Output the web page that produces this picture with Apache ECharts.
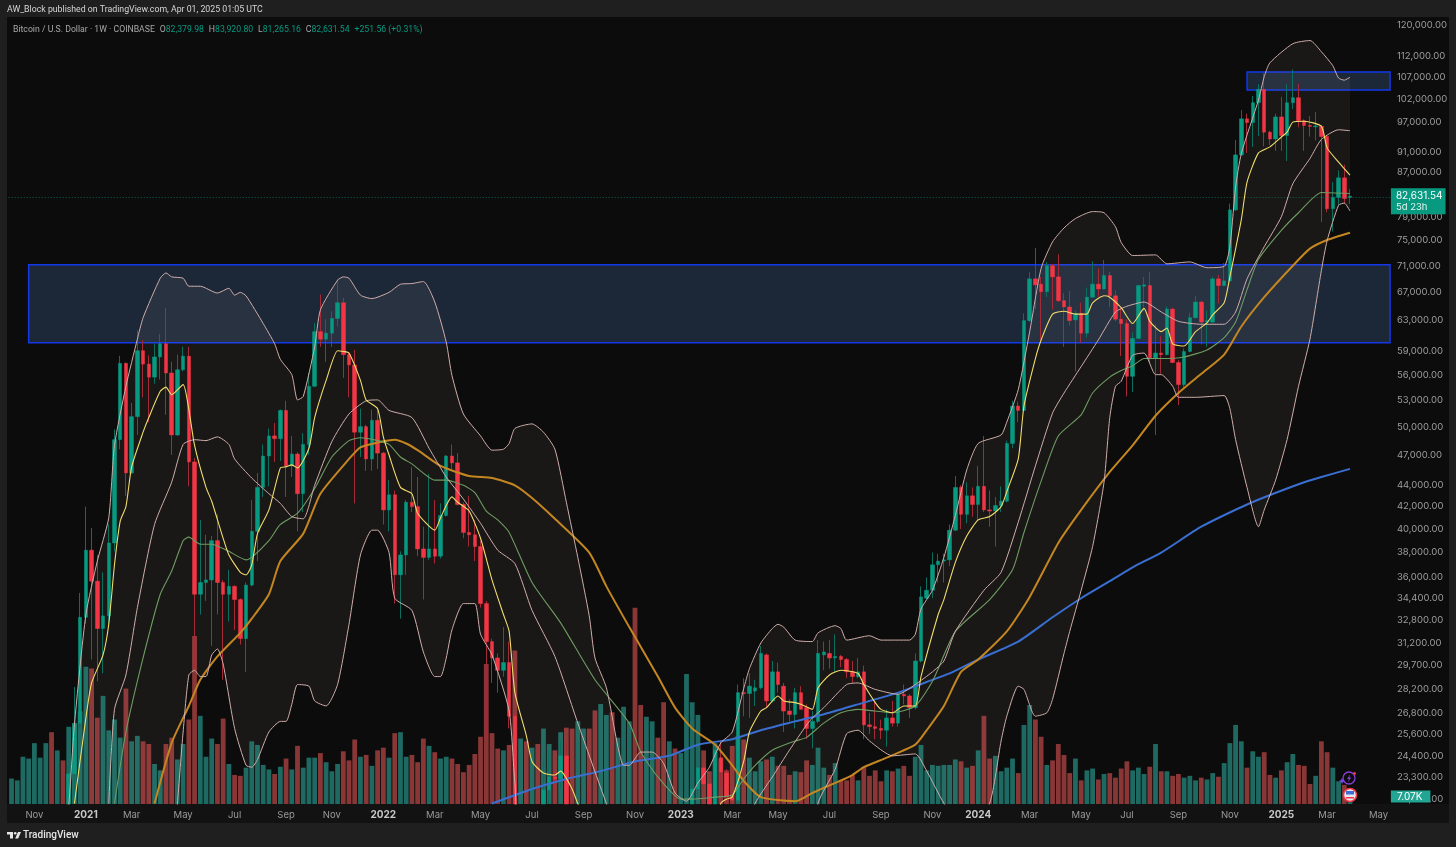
<!DOCTYPE html>
<html>
<head>
<meta charset="utf-8">
<title>BTCUSD 1W</title>
<script src="https://cdn.jsdelivr.net/npm/echarts@6/dist/echarts.min.js"></script>
<style>
html, body { margin: 0; padding: 0; background: #1f1f1f; }
#panel { position: absolute; left: 7px; top: 17px; width: 1442px; height: 806px; background: #0c0c0c; }
#timebar { position: absolute; left: 7px; top: 804px; width: 1442px; height: 19px; background: #121212; }
#main { position: absolute; left: 0; top: 0; width: 1456px; height: 847px; }
</style>
</head>
<body>
<div id="panel"></div>
<div id="timebar"></div>
<div id="main"></div>
<script>
// weekly candles, first bar is the week of 2020-10-05
var opens = [
  10670,11370,11500,12930,13300,15480,16300,18400,18180,19170,
  19100,23460,26200,33000,38200,35700,32200,33100,38800,48600,
  57400,45200,51100,59000,57300,55700,58200,59900,56200,49100,
  56600,58300,46300,34700,35600,35800,39000,35600,34700,35300,
  34300,31500,35400,39800,43800,46900,49000,48700,51800,45900,
  47100,43200,48100,54600,61500,60500,61300,63300,65500,58500,
  57200,49400,50000,46600,50700,47200,41700,43100,36200,37800,
  42400,42000,38300,37600,38300,37700,41200,46900,46200,42200,
  39700,39500,38500,34000,31300,30200,29400,29900,26600,20550,
  21000,19300,20850,20800,22650,23300,23200,24400,21500,19900,
  20000,21800,19400,18800,19050,19400,19250,19570,20600,20900,
  16300,16280,16420,17100,17080,16780,16840,16610,16950,21200,
  22700,23770,22950,21800,24300,23500,22350,22150,28000,27950,
  28100,28300,30400,27500,29300,28400,26900,26700,28000,27100,
  25900,26300,30400,30500,30200,30300,30100,29300,29000,29300,
  26100,26000,25900,25800,26500,26200,27900,27800,27100,30000,
  34400,35000,37000,37300,37400,39900,43800,41300,43000,42200,
  43900,41700,41600,42100,42500,48200,52300,51800,63000,69000,
  68200,67100,71000,69300,65800,64900,63100,64000,61300,66300,
  68200,67500,69500,66500,63200,62600,55800,60600,67900,68000,
  58100,58700,58500,64600,57500,54800,58900,63400,65600,62800,
  62800,69000,68000,68700,80200,90400,97800,97000,101300,104300,
  95000,93600,98200,94300,101300,102400,97400,96400,96100,96200,
  94100,80400,82400,86000,82379.98
];
var closes = [
  11370,11500,12930,13300,15480,16300,18400,18180,19170,19100,
  23460,26200,33000,38200,35700,32200,33100,38800,48600,57400,
  45200,51100,59000,57300,55700,58200,59900,56200,49100,56600,
  58300,46300,34700,35600,35800,39000,35600,34700,35300,34300,
  31500,35400,39800,43800,46900,49000,48700,51800,45900,47100,
  43200,48100,54600,61500,60500,61300,63300,65500,58500,57200,
  49400,50000,46600,50700,47200,41700,43100,36200,37800,42400,
  42000,38300,37600,38300,37700,41200,46900,46200,42200,39700,
  39500,38500,34000,31300,30200,29400,29900,26600,20550,21000,
  19300,20850,20800,22650,23300,23200,24400,21500,20300,20000,
  21800,19400,18800,19050,19400,19250,19570,20600,20900,16300,
  16280,16420,17100,17080,16780,16840,16610,16950,21200,22700,
  23770,22950,21800,24700,23550,22350,22150,28000,27950,28400,
  28300,30500,27500,29300,28500,26900,26700,28000,27000,25900,
  26300,30500,30600,30200,30300,30100,29300,29000,29300,26100,
  26000,25900,25800,26500,26200,27900,27800,27100,30000,34500,
  35000,37000,37300,37400,39900,43800,41300,43000,42200,43900,
  41700,41600,42100,42500,48200,52300,51800,63000,69000,68100,
  67100,71000,69300,65800,64900,63000,64000,61300,66300,68200,
  67500,69500,66500,63200,62600,55800,60600,68000,68100,58100,
  58700,58500,64600,57500,54800,58900,63400,65600,62800,63000,
  69000,68000,68700,80200,90400,97800,97000,101300,104300,95000,
  93600,98200,94300,101300,102400,97400,96400,96200,96300,94100,
  80400,82400,86000,82200,82631.54
];
var highs = [
  11500,11700,13200,13800,15900,16500,18900,19400,19900,19500,
  23800,28350,34800,42000,40100,37800,36400,40400,49700,58350,
  57500,52650,61700,60400,58400,59900,61200,64800,57600,58500,
  59500,59500,46700,40800,39500,39400,41300,35800,36600,35400,
  34400,35600,42600,45200,48100,49800,50400,51900,52900,49000,
  47300,49300,56200,62700,66700,63200,64300,69000,66200,58800,
  59100,52000,50200,51900,52100,47300,44500,43500,38100,42600,
  45800,44800,40200,45100,42600,42300,47000,48100,47200,42400,
  43000,40800,39000,34200,31500,30500,32300,31300,26800,21800,
  21500,21700,21000,24250,24700,23600,25200,25200,21700,20600,
  21900,22800,19700,20400,20500,19900,19700,21000,21450,21000,
  17200,16800,17400,17400,18400,17000,16950,17100,21300,23300,
  23950,24250,23400,25000,25250,23700,22600,28500,28900,29200,
  28800,31000,30500,30000,29900,28600,27600,28300,28400,27300,
  26900,31400,31300,31400,31800,30400,30200,30000,30200,29700,
  26800,27600,26400,27000,27500,28000,28500,27900,30500,35300,
  36000,38000,37900,37900,40400,44900,44000,44300,43800,45900,
  49000,43500,42900,43900,48500,52900,52800,64000,70000,73800,
  69300,71600,71300,72800,66900,67200,64400,65500,67700,71700,
  70600,71900,70100,67300,64800,63200,61400,68100,69300,70000,
  62500,60900,65000,64800,57800,59300,64100,66500,65800,64400,
  69300,69600,71400,81300,93400,99700,98900,102800,105500,108000,
  95300,98900,102600,105500,108900,105600,97700,98400,99300,96500,
  94400,85200,87400,88500,83920.8
];
var lows = [
  10500,11100,11200,12700,13000,15000,15700,16200,17600,17600,
  19000,21900,26000,32550,30100,28700,29200,32500,38100,47600,
  43000,45100,49100,53300,50500,54900,55400,51300,47000,49000,
  56400,43900,29500,33200,34200,31000,33200,28800,32700,32100,
  31100,29300,35300,37300,42900,43900,46300,46400,42900,44800,
  39800,41500,47000,54500,59500,57600,59500,62200,55600,53300,
  42300,46800,45400,45400,45600,40400,39800,34000,32900,36200,
  41500,37700,34300,37400,37100,37500,41100,45600,42100,39200,
  38500,37300,33700,25300,28600,28000,29000,25900,17600,19700,
  18700,19000,19200,20700,20700,22700,22700,20800,19600,19500,
  18500,19300,18100,18500,19000,18200,18700,19200,20000,15600,
  15800,15400,16000,16700,16500,16300,16300,16500,16900,20400,
  22300,22700,21400,21500,22750,21900,19600,19600,26600,26500,
  27200,28200,27100,27400,28000,25700,26300,25900,27000,25300,
  24800,26200,29400,29500,29300,29600,28900,28600,28900,25300,
  25600,25300,25300,24900,26000,26000,27300,26500,27000,29900,
  34300,34400,35600,35600,36900,39800,40000,40500,41100,40800,
  41500,40200,38500,41500,42400,47700,50500,51700,62800,64600,
  60400,66300,64500,65600,59500,62300,56400,60000,60700,66200,
  66300,67400,64900,62900,58300,53400,53900,60500,64300,57500,
  49100,56100,58400,57400,52400,54500,58800,63300,59800,59500,
  62700,65400,67900,68500,80000,90200,90800,92000,94200,92100,
  92400,91200,91200,89200,99900,96000,91200,94100,93300,78100,
  79800,76500,80900,81300,81265.16
];
// volume in thousands
var volumes = [
  28,26,52,50,67,51,67,79,59,48,
  85,88,102,151,149,95,119,81,93,73,
  127,69,75,69,66,44,37,66,73,49,
  66,93,185,97,52,72,66,94,44,32,
  31,40,69,65,43,38,33,41,50,38,
  64,40,51,51,56,46,36,44,58,48,
  71,52,54,42,59,62,51,78,79,52,
  54,46,72,64,57,50,52,50,44,35,
  43,55,74,154,78,61,59,65,169,72,
  69,62,66,83,66,59,79,84,83,91,
  83,83,103,110,98,101,73,107,91,216,
  109,96,91,73,112,69,61,56,143,112,
  98,59,36,67,50,37,64,75,71,51,
  36,47,49,52,42,42,32,36,35,48,
  43,62,40,32,45,26,26,32,26,41,
  31,37,25,37,36,39,42,31,52,65,
  37,43,42,43,43,49,47,40,42,59,
  97,50,53,36,40,50,34,87,109,93,
  74,43,48,66,54,34,50,26,37,39,
  27,33,34,29,39,47,37,40,33,41,
  66,36,36,31,33,29,31,26,29,27,
  34,30,45,67,87,69,40,58,52,57,
  32,29,37,46,55,43,42,22,31,69,
  57,40,25,21,7.07
];

// indicators as [week number, price]
var bbUpper = [[0,13000],[9,20000],[10,21900],[11,26130],[13,33200],[15,37300],[17,41000],[18,48000],[20,54600],[22,60500],[23,63400],[26,69100],[27,69900],[28,69300],[30,69100],[31,67900],[33,67900],[36,66900],[38,67600],[39,66600],[40,67000],[41,66500],[44,62600],[46,59900],[47,57900],[49,56000],[50,53000],[51,53400],[53,59500],[54,64500],[57,68800],[58,69300],[59,69100],[61,66600],[63,66100],[66,67000],[68,68200],[70,68300],[72,68600],[74,65600],[76,60100],[77,55900],[79,51400],[82,49000],[84,47500],[86,47600],[87,48200],[88,49800],[91,50300],[93,49400],[95,47600],[97,42400],[99,37600],[101,33100],[102,30200],[104,28300],[106,24900],[107,23900],[108,23900],[110,24600],[112,24600],[114,24000],[116,22500],[118,22100],[120,23000],[122,23800],[124,25100],[126,25700],[128,28250],[129,29500],[131,31200],[133,32200],[134,32500],[135,32300],[137,31400],[140,31300],[141,31900],[144,32400],[145,32200],[146,31400],[150,31700],[152,31400],[157,31400],[158,31800],[159,33600],[161,35000],[163,37600],[165,41200],[167,45500],[169,48200],[173,49100],[174,50500],[176,54200],[178,61500],[180,70600],[182,74800],[184,77100],[186,78700],[189,79900],[191,79700],[193,77300],[194,74700],[196,72600],[200,72700],[202,71300],[206,71600],[209,70700],[212,70900],[213,74000],[214,84300],[215,90700],[218,101900],[219,107200],[220,110500],[224,115200],[227,116000],[229,113200],[231,109800],[232,106900],[233,106400],[234,107100]];
var bbLower = [[0,8000],[28,19000],[29,21990],[30,25700],[31,29100],[32,29400],[33,29000],[34,29000],[35,30400],[36,30800],[37,29800],[39,25900],[41,23900],[42,23800],[43,24200],[45,25700],[47,26300],[48,26300],[49,27300],[50,28500],[52,28400],[53,27500],[55,27200],[57,28500],[59,32500],[61,37800],[63,39900],[64,39900],[66,38000],[67,34400],[70,33500],[72,30600],[74,29000],[75,29000],[76,30200],[77,32100],[79,34000],[81,34000],[82,31800],[84,30400],[87,26900],[88,23000],[90,18000],[140,19000],[141,22000],[144,23700],[146,25600],[148,25800],[150,25200],[154,24400],[158,24500],[160,23600],[163,22000],[167,20500],[171,22000],[173,25200],[174,26600],[176,28400],[177,28200],[179,26600],[181,26800],[182,27600],[184,30500],[185,32000],[187,35000],[189,38500],[191,44300],[192,51000],[193,54600],[194,55200],[196,58400],[198,58700],[200,56000],[201,56000],[203,54600],[204,53300],[207,53300],[212,53500],[213,52000],[214,48600],[216,43800],[218,40200],[219,41700],[221,44500],[223,48600],[225,54600],[227,60500],[229,70300],[230,75000],[232,81000],[233,81400],[234,80000]];
var bbBasis = [[17,21990],[18,27000],[20,29100],[22,33700],[25,40400],[28,44300],[30,48100],[32,48600],[34,48500],[36,48900],[38,48100],[39,46600],[42,44700],[45,43200],[47,42300],[49,41100],[51,40900],[53,44000],[56,48400],[59,51400],[62,52900],[64,53000],[66,51800],[70,51000],[73,47700],[76,44800],[79,42700],[82,40500],[85,38200],[88,37100],[91,33500],[95,30300],[99,26200],[104,21990],[110,18000],[127,20000],[130,22000],[133,23300],[136,24700],[139,26100],[140,26500],[142,27100],[146,28500],[148,28600],[151,28200],[155,27900],[158,28500],[161,29300],[163,30000],[165,32000],[170,35000],[173,36400],[176,40600],[179,45900],[182,51500],[184,53800],[187,57000],[190,60400],[193,64200],[195,65000],[198,65600],[201,64200],[204,62900],[208,62500],[212,62500],[214,64200],[216,69000],[219,74000],[222,79000],[224,84900],[227,89700],[229,93500],[232,95500],[234,95300]];
var maYellow = [[11,21990],[13,26500],[14,28600],[16,30400],[17,32500],[18,37000],[19,40700],[20,42000],[21,45800],[23,49400],[24,51000],[26,54000],[27,54500],[28,53600],[30,54800],[31,51900],[32,48000],[34,43800],[35,42500],[37,39200],[38,37800],[40,36400],[41,36200],[42,37000],[43,39600],[45,41700],[47,45700],[48,45800],[49,46000],[50,45700],[52,47700],[53,51000],[55,55300],[57,59000],[58,58900],[59,58700],[61,55300],[62,53000],[64,52000],[65,48900],[66,47000],[68,43800],[70,43200],[71,41400],[74,39900],[75,41000],[77,42900],[78,42400],[80,41600],[82,39200],[84,35800],[86,33200],[87,32000],[88,28000],[90,25500],[91,24100],[93,23500],[95,23400],[96,23600],[98,22700],[99,21990],[105,19000],[120,18000],[124,22000],[125,22200],[126,22300],[128,24100],[129,25700],[131,26900],[132,27100],[134,27800],[135,27500],[137,27400],[138,27300],[140,27000],[141,28300],[143,29100],[145,29400],[148,29200],[149,28500],[151,27400],[152,27000],[154,26800],[156,27200],[158,27200],[159,29000],[162,33200],[163,34300],[165,37200],[167,39400],[169,40800],[171,41100],[173,42000],[174,43400],[176,46600],[177,52300],[179,58000],[180,60400],[182,63900],[184,64300],[186,63900],[188,63900],[189,65500],[191,66500],[192,66300],[194,64800],[196,62600],[198,64700],[199,62900],[201,61500],[202,62000],[203,59900],[205,59600],[207,61500],[209,62700],[210,63800],[212,65500],[213,69300],[215,78500],[216,85200],[218,90800],[220,92000],[222,94000],[223,95000],[224,97100],[226,97300],[229,96200],[230,91800],[232,89000],[234,86500]];
var maGreen = [[18,21990],[20,25700],[23,30200],[26,34700],[28,36500],[30,39000],[31,39300],[33,38700],[35,38700],[38,38100],[41,37400],[42,37600],[45,39000],[47,40400],[50,41400],[53,43700],[56,46800],[59,48500],[61,48800],[64,48500],[66,48100],[68,46800],[70,46100],[74,44500],[76,44500],[79,44000],[81,43300],[83,41600],[85,40800],[87,39700],[91,35600],[96,32600],[102,28800],[108,26200],[110,24600],[113,23300],[117,22200],[119,22200],[123,22300],[126,22400],[128,23200],[130,23900],[133,24700],[137,25200],[139,25400],[142,26200],[145,26800],[148,27000],[151,26900],[154,26800],[158,27200],[161,28700],[165,32000],[171,34300],[175,36600],[177,39700],[180,44400],[183,49000],[187,51300],[189,53800],[192,55700],[194,56500],[196,57100],[198,58000],[201,58000],[205,58200],[209,59100],[212,60700],[214,62800],[216,67400],[218,72000],[222,76700],[225,79700],[229,83300],[234,83100]];
var maOrange = [[25,21990],[28,25100],[31,27200],[33,28800],[36,30300],[40,31900],[42,32900],[45,34700],[47,37300],[51,39600],[54,43200],[59,46600],[61,47800],[64,48300],[67,48600],[69,48200],[71,47500],[75,45900],[80,44900],[84,44700],[88,44000],[91,42800],[95,40900],[101,38000],[104,35300],[108,32300],[113,29000],[116,27100],[119,25900],[123,25000],[126,23900],[128,23100],[131,22300],[137,22100],[140,22500],[144,23000],[147,23400],[149,23800],[153,24300],[158,25000],[160,25800],[163,27200],[166,29300],[169,30100],[174,32000],[178,34500],[183,38800],[187,41700],[192,45300],[196,48000],[200,51200],[204,53800],[208,56100],[212,58500],[215,62200],[219,66300],[224,71000],[227,73700],[230,75100],[234,76300]];
var maBlue = [[84,21990],[91,22700],[97,23200],[103,23600],[109,24100],[115,24400],[120,25000],[126,25300],[131,25800],[137,26300],[143,26800],[149,27400],[155,28000],[158,28400],[164,29200],[169,30100],[176,31300],[182,33000],[187,34400],[192,35700],[196,36800],[201,38000],[208,40200],[216,42200],[225,44100],[229,44800],[234,45600]];

var priceTicks = [120000,112000,107000,102000,97000,91000,87000,79000,75000,71000,67000,63000,59000,56000,53000,50000,47000,44000,42000,40000,38000,36000,34400,32800,31200,29700,28200,26800,25600,24400,23300,22200];
var tickWeeks = [4,13,21,30,39,48,56,65,74,82,91,100,109,117,126,134,143,152,161,169,178,187,195,204,213,222,230,239];
var tickNames = ["Nov","2021","Mar","May","Jul","Sep","Nov","2022","Mar","May","Jul","Sep","Nov","2023","Mar","May","Jul","Sep","Nov","2024","Mar","May","Jul","Sep","Nov","2025","Mar","May"];

var lastPrice = 82631.54;
var lastVolume = 7.07;
// resistance boxes: first week, last week, top price, bottom price
var boxLow = [3, 241, 71150, 60040];
var boxHigh = [216, 241, 108300, 104150];

var weekCount = 242;
var priceMax = 121840, priceMin = 21967;
var volumeMax = 865;

var UP = "#089981", DOWN = "#f23645";

function lg(v) { return Math.log(v); }
// candles do not clip to the grid, so stop them at the bottom of the scale
function floorLg(v) { return Math.log(Math.max(v, priceMin)); }
function line(name, knots, color, width) {
  return {
    name: name, type: "line", xAxisIndex: 0, yAxisIndex: 0, z: 5,
    symbol: "none", silent: true, clip: true, smooth: 0.2,
    lineStyle: { color: color, width: width },
    data: knots.map(function (k) { return [k[0], lg(k[1])]; })
  };
}
function box(b) {
  return [
    { xAxis: b[0], yAxis: lg(b[2]) },
    { xAxis: b[1], yAxis: lg(b[3]) }
  ];
}

var weeks = [];
for (var w = 0; w < weekCount; w++) {
  weeks.push(new Date(Date.UTC(2020, 9, 5 + w * 7)).toISOString().slice(0, 10));
}

var wickData = [], bodyData = [], volData = [];
opens.forEach(function (o, i) {
  var c = closes[i];
  var offScale = highs[i] < priceMin;
  wickData.push(offScale ? "-" : [floorLg(o), floorLg(c), floorLg(lows[i]), lg(highs[i])]);
  bodyData.push(Math.max(o, c) < priceMin ? "-" : [floorLg(o), floorLg(c), floorLg(Math.min(o, c)), lg(Math.max(o, c))]);
  volData.push({
    value: volumes[i],
    itemStyle: { color: c >= o ? "rgba(46,183,168,0.55)" : "rgba(240,90,90,0.55)" }
  });
});

var font = "Inter, 'Noto Sans', sans-serif";
var headFont = "Roboto, 'Noto Sans', sans-serif";
var chart = echarts.init(document.getElementById("main"), null, { renderer: "canvas" });
chart.setOption({
  animation: false,
  backgroundColor: "transparent",
  textStyle: { fontFamily: font },
  title: [
    {
      left: 7, top: 5, padding: 0,
      text: "AW_Block published on TradingView.com, Apr 01, 2025 01:05 UTC",
      textStyle: { color: "#d6d6d6", fontSize: 8.75, fontWeight: "normal", fontFamily: headFont }
    },
    {
      left: 13, top: 25, padding: 0,
      text: "{l|Bitcoin / U.S. Dollar · 1W · COINBASE}  {l|O}{v|82,379.98}  {l|H}{v|83,920.80}  {l|L}{v|81,265.16}  {l|C}{v|82,631.54}  {v|+251.56 (+0.31%)}",
      textStyle: {
        fontSize: 8.7,
        fontWeight: "normal",
        rich: {
          l: { color: "#a8a8a8", fontSize: 8.7, fontWeight: "normal", fontFamily: headFont },
          v: { color: "#089981", fontSize: 8.7, fontWeight: "normal", fontFamily: headFont }
        }
      }
    }
  ],
  grid: { left: 8.66, top: 18, width: 1384.24, height: 786, containLabel: false },
  xAxis: {
    type: "category",
    data: weeks,
    boundaryGap: true,
    axisLine: { show: false },
    axisTick: { show: false },
    splitLine: { show: false },
    axisLabel: {
      margin: 6,
      hideOverlap: false,
      interval: function (i) { return tickWeeks.indexOf(i) >= 0; },
      formatter: function (v, i) {
        var n = tickNames[tickWeeks.indexOf(i)];
        return /^\d/.test(n) ? "{y|" + n + "}" : "{m|" + n + "}";
      },
      rich: {
        m: { color: "#9a9a9a", fontSize: 9.5, fontFamily: font },
        y: { color: "#c8c8c8", fontSize: 10, fontWeight: "bold", fontFamily: font }
      }
    }
  },
  yAxis: [
    {
      type: "value",
      position: "right",
      min: lg(priceMin),
      max: lg(priceMax),
      axisLine: { show: false },
      axisTick: { show: false },
      splitLine: { show: false },
      axisLabel: {
        margin: 4,
        color: "#9e9e9e",
        fontSize: 9.5,
        fontFamily: font,
        customValues: priceTicks.map(lg),
        formatter: function (v) {
          return Math.round(Math.exp(v)).toLocaleString("en-US") + ".00";
        }
      }
    },
    {
      type: "value", min: 0, max: volumeMax, show: false,
      axisLabel: { show: false }, splitLine: { show: false }
    }
  ],
  series: [
    {
      name: "Volume", type: "bar", xAxisIndex: 0, yAxisIndex: 1, z: 2,
      barWidth: 4.8, silent: true, data: volData,
      markLine: {
        silent: true, symbol: "none", animation: false,
        lineStyle: { color: "transparent", width: 0 },
        label: {
          position: "end", distance: -2, offset: [0, -1],
          formatter: "7.07K", color: "#fff", fontSize: 10, fontFamily: font,
          backgroundColor: "#22a593", padding: [1, 8, 1, 6]
        },
        data: [{ yAxis: lastVolume }]
      }
    },
    {
      name: "BB fill", type: "custom", xAxisIndex: 0, yAxisIndex: 0, z: 1,
      silent: true, clip: true,
      data: [[0, lg(bbLower[0][1])]],
      renderItem: function (params, api) {
        var up = bbUpper.map(function (k) { return api.coord([k[0], lg(k[1])]); });
        var low = bbLower.map(function (k) { return api.coord([k[0], lg(k[1])]); }).reverse();
        return { type: "polygon", shape: { points: up.concat(low) }, style: { fill: "rgba(255,240,225,0.055)" } };
      }
    },
    {
      name: "Wicks", type: "candlestick", xAxisIndex: 0, yAxisIndex: 0, z: 3,
      barWidth: 1, silent: true, clip: true, data: wickData,
      itemStyle: { color: "#0c6e5f", color0: "#a32a36", borderColor: "#0c6e5f", borderColor0: "#a32a36", borderWidth: 1 }
    },
    {
      name: "BTCUSD", type: "candlestick", xAxisIndex: 0, yAxisIndex: 0, z: 4,
      barWidth: 4, silent: true, clip: true, data: bodyData,
      itemStyle: { color: UP, color0: DOWN, borderColor: UP, borderColor0: DOWN, borderWidth: 0.5 },
      markLine: {
        silent: true, symbol: "none", animation: false,
        lineStyle: { color: "rgba(8,153,129,0.6)", type: [1, 2], width: 1 },
        label: {
          position: "end", distance: -2, offset: [0, 4],
          formatter: "{a|82,631.54}\n{b|5d 23h}",
          backgroundColor: "#089981", padding: [2, 3, 2, 5],
          rich: {
            a: { color: "#fff", fontSize: 10, lineHeight: 11, fontFamily: font, align: "left" },
            b: { color: "#e4f3ef", fontSize: 9.5, lineHeight: 11, fontFamily: font, align: "left" }
          }
        },
        data: [{ yAxis: lg(lastPrice) }]
      }
    },
    line("MA 200", maBlue, "#3a6fd2", 2),
    line("MA 50", maOrange, "#c48620", 2),
    line("MA 21", maGreen, "#6f9c62", 1.1),
    line("BB basis", bbBasis, "#d0aeaa", 1),
    line("BB upper", bbUpper, "#d0aeaa", 1),
    line("BB lower", bbLower, "#d0aeaa", 1),
    line("MA 10", maYellow, "#f2dc6b", 1.1),
    {
      name: "Zones", type: "line", xAxisIndex: 0, yAxisIndex: 0, z: 8,
      silent: true, data: [],
      markArea: {
        silent: true,
        itemStyle: { color: "rgba(95,150,235,0.2)", borderColor: "#1238ea", borderWidth: 1.5 },
        data: [box(boxLow), box(boxHigh)]
      }
    }
  ],
  graphic: [
    // calendar and dividend marks by the last bar
    { type: "circle", z: 20, shape: { cx: 1349, cy: 778, r: 6 }, style: { fill: "#0c0c0c", stroke: "#8a3fd6", lineWidth: 1.3 } },
    { type: "polygon", z: 21, shape: { points: [[1350.5, 774], [1347, 779], [1349, 779], [1347.8, 782.5], [1351.2, 777.5], [1349.2, 777.5]] }, style: { fill: "#8a3fd6" } },
    { type: "polygon", z: 21, shape: { points: [[1342, 778], [1343, 780], [1345, 781], [1343, 782], [1342, 784], [1341, 782], [1339, 781], [1341, 780]] }, style: { fill: "#7a45e6" } },
    { type: "circle", z: 21, shape: { cx: 1354.5, cy: 773.5, r: 1.4 }, style: { fill: "#f23645" } },
    { type: "circle", z: 20, shape: { cx: 1350, cy: 795, r: 6.5 }, style: { fill: "#e8e8f0", stroke: "#f23645", lineWidth: 1.5 } },
    { type: "rect", z: 21, shape: { x: 1346, y: 791, width: 8, height: 3.5 }, style: { fill: "#3b6fd6" } },
    { type: "rect", z: 21, shape: { x: 1346, y: 797, width: 8, height: 1.5 }, style: { fill: "#f23645" } },
    // footer logo
    { type: "rect", z: 20, shape: { x: 7, y: 832, width: 6, height: 2.5 }, style: { fill: "#e6e6e6" } },
    { type: "rect", z: 20, shape: { x: 10, y: 832, width: 3, height: 6.5 }, style: { fill: "#e6e6e6" } },
    { type: "circle", z: 20, shape: { cx: 15.2, cy: 833.3, r: 1.3 }, style: { fill: "#e6e6e6" } },
    { type: "polygon", z: 20, shape: { points: [[18, 832], [21, 832], [18.2, 838.5], [15.2, 838.5]] }, style: { fill: "#e6e6e6" } },
    { type: "text", z: 20, style: { x: 23, y: 830, text: "TradingView", fill: "#e6e6e6", font: "500 10px Roboto, sans-serif" } }
  ]
});
window.addEventListener("resize", function () {
  chart.resize();
});
</script>
</body>
</html>
